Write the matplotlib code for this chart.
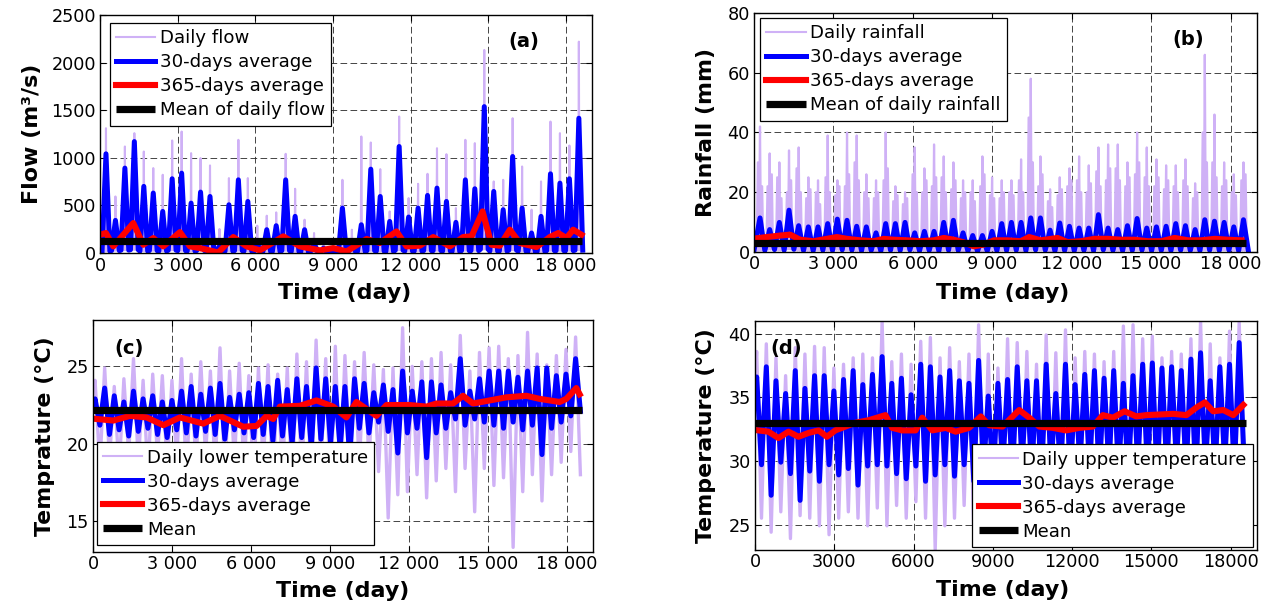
import numpy as np
import matplotlib
matplotlib.use("Agg")
import matplotlib.pyplot as plt

plt.rcParams['font.family'] = ['DejaVu Sans']

# ---------------- data ----------------
n_years = 51
year_index = np.arange(n_years)
days_per_year = 365.25
series_end_day = 18600

# (a) flow, m3/s  (one flood season per year)
flow_peak_doy = 232
flow30_peak = [1042, 343, 892, 1171, 700, 630, 437, 780, 839, 524, 640, 594, 70, 507, 769, 542, 100,
               245, 287, 769, 385, 245, 105, 52, 30, 472, 105, 297, 881, 594, 332, 1119, 378, 472,
               605, 682, 542, 322, 769, 675, 1538, 647, 455, 1014, 472, 210, 385, 832, 734, 780, 1416]
flow30_low = [20, 25, 30, 35, 20, 25, 20, 30, 25, 20, 25, 20, 10, 20, 25, 20, 10, 15, 15, 25, 15, 10,
              8, 5, 5, 15, 10, 15, 25, 20, 15, 30, 20, 20, 25, 25, 20, 15, 25, 25, 40, 20, 20, 30,
              20, 10, 15, 25, 25, 25, 30]
flow_daily_peak = [1311, 594, 1119, 1259, 1066, 892, 822, 1182, 1276, 1049, 997, 920, 252, 787, 1189,
                   787, 287, 392, 427, 1042, 675, 350, 210, 110, 60, 769, 245, 1224, 1161, 881, 437,
                   1434, 577, 727, 832, 1101, 1038, 472, 1189, 1154, 2133, 752, 769, 1416, 909, 455,
                   752, 1381, 1259, 1129, 2220]
flow365_day = [0, 232, 515, 1287, 1673, 2059, 2445, 3089, 3475, 3861, 4569, 5148, 5663, 6178, 7079,
               7722, 8494, 9009, 9524, 10296, 10811, 11454, 11840, 12355, 12870, 13514, 14028, 14350,
               14775, 15122, 15444, 15830, 16216, 16860, 17375, 17697, 18018, 18275, 18597]
flow365_val = [192, 210, 70, 315, 87, 157, 70, 220, 70, 52, 5, 168, 70, 28, 175, 70, 28, 52, 17, 147,
               105, 227, 70, 77, 168, 70, 168, 175, 437, 87, 77, 245, 105, 63, 168, 210, 157, 245, 192]
flow_mean = 124

# (b) rainfall, mm
rain_peak_doy = 227
rain30_peak = [11.4, 7.5, 9.9, 14.0, 8.8, 8.4, 8.4, 9.5, 11.0, 10.6, 8.6, 8.4, 6.4, 9.5, 9.5, 9.9, 6.4,
               6.9, 6.9, 9.9, 10.6, 6.4, 5.5, 5.5, 6.9, 9.5, 9.9, 9.9, 11.4, 11.4, 7.3, 9.7, 8.6, 8.0,
               8.0, 12.5, 8.0, 7.5, 8.8, 11.2, 8.0, 8.4, 8.6, 9.5, 8.8, 7.5, 10.8, 10.3, 9.9, 8.4, 10.8]
rain30_low = [0.5, 0.8, 0.6, 0.9, 0.5, 0.4, 0.6, 0.5, 0.7, 0.6, 0.4, 0.5, 0.3, 0.6, 0.5, 0.7, 0.4,
              0.5, 0.3, 0.6, 0.5, 0.3, 0.2, 0.3, 0.4, 0.5, 0.6, 0.4, 0.7, 0.6, 0.3, 0.5, 0.4, 0.5,
              0.4, 0.7, 0.5, 0.4, 0.5, 0.6, 0.4, 0.5, 0.4, 0.6, 0.5, 0.4, 0.6, 0.5, 0.6, 0.4, 0.5]
rain_daily_max = [42, 33, 30, 34, 35, 25, 24, 39, 24, 40, 39, 26, 24, 40, 22, 20, 35, 28, 36, 32, 30,
                  24, 24, 32, 25, 24, 24, 31, 58, 32, 21, 25, 28, 32, 29, 35, 36, 36, 30, 40, 35, 31,
                  29, 29, 31, 23, 66, 46, 30, 26, 30]
rain_daily_early = [30, 22, 25, 20, 28, 18, 20, 25, 19, 22, 30, 20, 18, 24, 17, 16, 26, 20, 22, 25,
                    21, 18, 20, 22, 19, 18, 20, 24, 45, 22, 17, 19, 22, 24, 20, 27, 24, 28, 22, 26,
                    25, 22, 21, 22, 24, 18, 40, 30, 22, 20, 24]
rain_daily_late = [22, 26, 18, 24, 20, 21, 16, 20, 22, 26, 24, 18, 20, 28, 19, 18, 20, 24, 25, 20,
                   24, 20, 17, 26, 18, 20, 19, 20, 30, 26, 15, 21, 24, 20, 23, 22, 28, 24, 25, 30,
                   22, 25, 24, 20, 22, 20, 30, 25, 24, 19, 26]
rain365_day = [38, 480, 985, 1364, 1742, 2247, 2752, 3131, 3510, 4015, 4520, 4899, 5278, 5783, 6288,
               6793, 7172, 7550, 7930, 8309, 8688, 9067, 9572, 10077, 10393, 10835, 11466, 11845,
               12351, 12856, 13361, 13866, 14371, 14877, 15382, 15887, 16392, 16897, 17403, 17908,
               18413]
rain365_val = [4.5, 5.0, 5.5, 5.8, 4.1, 3.6, 4.4, 5.0, 4.4, 3.9, 3.6, 4.4, 4.1, 3.9, 3.6, 3.9, 4.7,
               4.1, 3.2, 1.9, 2.5, 3.9, 3.9, 3.6, 5.0, 3.9, 4.7, 3.3, 3.6, 4.4, 4.4, 4.1, 4.1, 3.6,
               3.6, 4.7, 3.9, 3.9, 4.4, 4.1, 3.9]
rain_mean = 3.0

# (c) daily lower temperature, deg C
tlow_peak_doy = 78
tlow30_start = 22.4
tlow30_peak = [22.9, 23.6, 23.1, 22.7, 23.4, 22.9, 23.1, 22.7, 22.8, 23.4, 23.7, 23.2, 23.6, 23.9,
               23.0, 23.2, 23.3, 23.9, 23.7, 24.1, 23.5, 24.2, 23.7, 24.9, 24.2, 23.7, 23.7, 24.2,
               23.9, 23.3, 23.8, 23.5, 24.7, 23.4, 24.0, 24.0, 23.8, 23.3, 25.5, 23.4, 24.2, 24.7,
               24.7, 24.7, 24.3, 24.7, 24.9, 24.9, 24.4, 24.5, 25.5]
tlow30_trough = [21.2, 20.6, 20.9, 20.5, 20.8, 21.0, 20.6, 20.4, 20.9, 20.7, 20.5, 20.8, 20.6, 20.3,
                 20.9, 20.7, 20.4, 20.6, 20.2, 20.5, 20.0, 20.4, 19.8, 20.3, 20.1, 19.7, 19.1, 21.0,
                 20.7, 21.4, 20.8, 19.4, 20.7, 21.0, 19.1, 20.7, 21.0, 21.6, 21.2, 21.6, 21.4, 21.2,
                 21.0, 21.4, 20.9, 21.2, 19.3, 21.0, 21.4, 21.8, 22.1]
tlow_daily_start = 23.5
tlow_daily_max = [24.1, 24.9, 23.7, 24.2, 25.5, 24.1, 24.5, 24.4, 24.1, 25.5, 24.5, 25.3, 24.7, 26.2,
                  24.7, 25.2, 24.4, 24.9, 25.1, 24.5, 24.9, 25.8, 25.3, 26.7, 25.5, 26.3, 25.7, 25.3,
                  25.9, 25.1, 24.8, 24.9, 27.5, 25.0, 25.3, 25.5, 25.9, 25.1, 27.0, 24.7, 25.9, 26.2,
                  26.3, 25.5, 25.7, 27.2, 25.8, 25.1, 25.7, 26.1, 26.9]
tlow_daily_min = [18.5, 19.0, 18.2, 19.3, 18.7, 18.0, 19.1, 18.4, 18.9, 17.8, 18.6, 19.2, 18.3, 17.9,
                  18.8, 18.1, 17.5, 18.6, 17.2, 18.0, 16.8, 17.9, 17.0, 18.3, 16.5, 17.4, 18.8, 18.4,
                  18.8, 18.2, 15.2, 16.7, 16.9, 18.0, 16.5, 17.6, 18.4, 16.9, 18.4, 15.6, 18.4, 17.3,
                  17.8, 13.3, 16.9, 18.0, 16.3, 18.0, 18.8, 19.5, 18.0]
tlow365_day = [139, 772, 1405, 2038, 2671, 3304, 4190, 4823, 5709, 6216, 6595, 6848, 7101, 7860, 8493,
               9126, 9632, 10012, 10772, 11152, 12038, 12671, 13051, 13684, 14063, 14443, 15076,
               15709, 16469, 16975, 17735, 17988, 18368, 18494]
tlow365_val = [21.6, 21.5, 21.8, 21.7, 21.2, 21.7, 21.3, 21.8, 21.1, 21.15, 21.8, 21.6, 22.4, 22.45,
               22.8, 22.4, 21.7, 22.7, 21.8, 22.5, 22.5, 22.4, 22.6, 22.6, 23.1, 22.6, 22.8, 23.0,
               23.1, 22.9, 22.7, 22.9, 23.6, 23.2]
tlow_mean = 22.2

# (d) daily upper temperature, deg C
tup_peak_doy = 63
tup30_start = 34.8
tup30_peak = [36.6, 37.4, 36.3, 35.3, 37.1, 35.7, 36.7, 36.7, 35.5, 36.4, 37.1, 36.0, 36.8, 38.2,
              36.1, 36.5, 35.2, 37.6, 37.4, 36.6, 37.1, 36.3, 36.1, 37.9, 35.1, 36.1, 36.4, 37.4,
              36.3, 36.3, 37.6, 35.3, 37.6, 36.0, 36.8, 37.1, 36.5, 37.1, 36.1, 36.7, 37.6, 37.7,
              37.3, 37.4, 37.1, 38.0, 38.5, 36.3, 37.4, 37.6, 39.3]
tup30_trough = [29.7, 27.3, 29.9, 29.0, 26.9, 29.2, 28.4, 29.7, 28.9, 29.4, 28.1, 29.6, 29.7, 29.6,
                29.0, 28.6, 29.6, 28.4, 28.9, 29.7, 28.8, 29.7, 28.4, 29.2, 28.6, 29.5, 28.8, 29.9,
                29.1, 28.4, 29.6, 29.0, 28.7, 29.8, 29.3, 28.9, 29.5, 29.0, 28.5, 29.7, 29.2, 28.8,
                29.4, 29.9, 29.1, 28.6, 29.5, 29.3, 29.8, 29.0, 30.2]
tup_daily_start = 36.5
tup_daily_max = [38.6, 39.2, 38.1, 36.7, 38.9, 38.4, 39.0, 38.9, 37.3, 37.6, 38.1, 38.4, 38.1, 41.0,
                 37.8, 38.4, 37.6, 39.4, 39.7, 38.1, 38.9, 37.8, 38.4, 40.7, 38.4, 37.3, 39.6, 39.3,
                 38.6, 37.6, 39.9, 38.5, 40.3, 38.1, 38.6, 38.4, 37.8, 38.6, 40.6, 40.7, 39.6, 39.8,
                 38.1, 38.6, 38.4, 39.6, 41.0, 39.2, 38.1, 40.2, 41.0]
tup_daily_min = [25.5, 24.4, 26.0, 23.9, 25.7, 25.5, 24.9, 24.2, 25.5, 26.0, 25.5, 24.9, 26.3, 24.9,
                 26.5, 25.5, 26.8, 25.5, 23.0, 24.9, 25.5, 26.5, 24.4, 25.8, 24.6, 26.2, 25.1, 26.5,
                 25.4, 24.8, 26.0, 25.6, 24.9, 26.3, 25.7, 25.0, 26.4, 25.2, 24.7, 26.1, 25.5, 24.9,
                 26.2, 26.6, 25.3, 24.8, 26.0, 25.7, 26.4, 25.1, 26.8]
tup365_day = [127, 506, 886, 1266, 1646, 2026, 2405, 2722, 3038, 3418, 3798, 4304, 4937, 5191, 5570,
              6077, 6330, 6710, 7216, 7596, 8102, 8546, 8862, 9368, 10000, 10380, 10760, 11266,
              11773, 12279, 12786, 13165, 13545, 13988, 14431, 14811, 15824, 16330, 16710, 17027,
              17343, 17723, 18103, 18483]
tup365_val = [32.4, 32.3, 31.8, 32.3, 31.9, 32.2, 32.4, 31.9, 32.4, 32.7, 33.0, 33.2, 33.6, 32.6,
              32.4, 32.4, 33.4, 32.4, 32.6, 32.3, 32.6, 33.5, 32.8, 32.7, 34.0, 33.4, 32.7, 32.6,
              32.4, 32.6, 32.7, 33.6, 33.4, 33.9, 33.5, 33.6, 33.7, 33.6, 34.2, 34.6, 33.9, 34.0,
              33.6, 34.4]
tup_mean = 33.0

# ---------------- styles ----------------
PURPLE = '#cfb1f6'
BLUE = '#0000ff'
RED = '#ff0000'
LW_DAILY, LW_30, LW_365, LW_MEAN = 1.5, 3.6, 4.4, 5.2
LW_DAILY_TEMP = 2.4
TICK_FS, LABEL_FS, LEG_FS, TAG_FS = 12.7, 15.9, 13.1, 14


def spikes(peak_day, base, top, half):
    x, y = [], []
    for d, b, t in zip(peak_day, base, top):
        x += [d - half, d, d + half]
        y += [b, t, b]
    return x, y


def rain_clusters(peak_day, base, early, top, late):
    x, y = [], []
    for d, b, e, t, l in zip(peak_day, base, early, top, late):
        x += [d - 125, d - 80, d - 40, d, d + 40, d + 80, d + 125]
        y += [b, e, b, t, b, l, b]
    return x, y


def seasonal(start, peak_day, peaks, troughs):
    x, y = [0], [start]
    for d, p, t in zip(peak_day, peaks, troughs):
        x += [d, d + days_per_year / 2]
        y += [p, t]
    return x, y


def style_axes(ax, ylim, yticks, xlabels, ylabel, ylab_x, xlab_y, xlab_x):
    ax.set_xlim(0, 19000)
    ax.set_ylim(*ylim)
    ax.set_xticks(np.arange(0, 18001, 3000))
    ax.set_xticklabels(xlabels)
    ax.set_yticks(yticks)
    ax.tick_params(direction='in', top=True, right=True, length=4, width=0.8,
                   labelsize=TICK_FS)
    ax.tick_params(axis='x', pad=2.5)
    ax.tick_params(axis='y', pad=3)
    ax.grid(True, color='0.15', linestyle=(0, (8, 4)), linewidth=0.6)
    ax.set_axisbelow(True)
    for s in ax.spines.values():
        s.set_linewidth(1.0)
    ax.set_ylabel(ylabel, fontsize=LABEL_FS, fontweight='bold')
    ax.yaxis.set_label_coords(ylab_x, 0.5)
    ax.set_xlabel('Time (day)', fontsize=LABEL_FS, fontweight='bold')
    ax.xaxis.set_label_coords(xlab_x, xlab_y)


def add_legend(ax, labels, loc, anchor):
    leg = ax.legend(labels, loc=loc, bbox_to_anchor=anchor, borderaxespad=0,
                    fontsize=LEG_FS, frameon=True, fancybox=False, edgecolor='k',
                    framealpha=1, borderpad=0.35, handlelength=2.15,
                    handletextpad=0.24, labelspacing=0.33)
    leg.get_frame().set_linewidth(0.9)
    leg.get_lines()[0].set_linewidth(LW_DAILY)


fig = plt.figure(figsize=(12.67, 6.10), dpi=100)
fig.patch.set_facecolor('white')

lab_space = ['0'] + ['%d %03d' % (v // 1000, v % 1000) for v in range(3000, 18001, 3000)]
lab_plain = [str(v) for v in range(0, 18001, 3000)]

# ---- (a) ----
ax = fig.add_axes([0.0789, 0.5852, 0.3883, 0.3902])
pday = year_index * days_per_year + flow_peak_doy
x, y = spikes(pday, flow30_low, flow_daily_peak, 25)
ax.plot(x, y, color=PURPLE, lw=LW_DAILY)
x, y = spikes(pday, flow30_low, flow30_peak, 150)
ax.plot(x, y, color=BLUE, lw=LW_30)
ax.plot(flow365_day, flow365_val, color=RED, lw=LW_365)
ax.plot([0, series_end_day], [flow_mean, flow_mean], color='k', lw=LW_MEAN, solid_capstyle='butt')
style_axes(ax, (0, 2500), np.arange(0, 2501, 500), lab_space, 'Flow (m³/s)', -0.118, -0.124, 0.498)
add_legend(ax, ['Daily flow', '30-days average', '365-days average', 'Mean of daily flow'],
           'upper left', (0.020, 0.966))
ax.text(0.862, 0.887, '(a)', transform=ax.transAxes, fontsize=TAG_FS, fontweight='bold',
        ha='center', va='center')

# ---- (b) ----
ax = fig.add_axes([0.5951, 0.5869, 0.3970, 0.3918])
pday = year_index * days_per_year + rain_peak_doy
x, y = rain_clusters(pday, rain30_low, rain_daily_early, rain_daily_max, rain_daily_late)
ax.plot(x, y, color=PURPLE, lw=1.6)
x, y = seasonal(rain30_low[0], pday, rain30_peak, rain30_low)
ax.plot(x, y, color=BLUE, lw=LW_30)
ax.plot(rain365_day, rain365_val, color=RED, lw=LW_365)
ax.plot([0, series_end_day], [rain_mean, rain_mean], color='k', lw=LW_MEAN, solid_capstyle='butt')
style_axes(ax, (0, 80), np.arange(0, 81, 20), lab_space, 'Rainfall (mm)', -0.075, -0.128, 0.495)
add_legend(ax, ['Daily rainfall', '30-days average', '365-days average', 'Mean of daily rainfall'],
           'upper left', (0.012, 0.979))
ax.text(0.863, 0.887, '(b)', transform=ax.transAxes, fontsize=TAG_FS, fontweight='bold',
        ha='center', va='center')

# ---- (c) ----
ax = fig.add_axes([0.0734, 0.0951, 0.3946, 0.3803])
pday = year_index * days_per_year + tlow_peak_doy
x, y = seasonal(tlow_daily_start, pday, tlow_daily_max, tlow_daily_min)
ax.plot(x, y, color=PURPLE, lw=LW_DAILY_TEMP)
x, y = seasonal(tlow30_start, pday, tlow30_peak, tlow30_trough)
ax.plot(x, y, color=BLUE, lw=LW_30)
ax.plot(tlow365_day, tlow365_val, color=RED, lw=LW_365)
ax.plot([0, series_end_day], [tlow_mean, tlow_mean], color='k', lw=LW_MEAN, solid_capstyle='butt')
style_axes(ax, (13, 28), [15, 20, 25], lab_space, 'Temprature (°C)', -0.077, -0.123, 0.499)
add_legend(ax, ['Daily lower temperature', '30-days average', '365-days average', 'Mean'],
           'lower left', (0.008, 0.030))
ax.text(0.072, 0.879, '(c)', transform=ax.transAxes, fontsize=TAG_FS, fontweight='bold',
        ha='center', va='center')

# ---- (d) ----
ax = fig.add_axes([0.5959, 0.0984, 0.3962, 0.3754])
pday = year_index * days_per_year + tup_peak_doy
x, y = seasonal(tup_daily_start, pday, tup_daily_max, tup_daily_min)
ax.plot(x, y, color=PURPLE, lw=LW_DAILY_TEMP)
x, y = seasonal(tup30_start, pday, tup30_peak, tup30_trough)
ax.plot(x, y, color=BLUE, lw=LW_30)
ax.plot(tup365_day, tup365_val, color=RED, lw=LW_365)
ax.plot([0, series_end_day], [tup_mean, tup_mean], color='k', lw=LW_MEAN, solid_capstyle='butt')
style_axes(ax, (23, 41), [25, 30, 35, 40], lab_plain, 'Temperature (°C)', -0.077, -0.132, 0.494)
add_legend(ax, ['Daily upper temperature', '30-days average', '365-days average', 'Mean'],
           'lower right', (0.992, 0.013))
ax.text(0.062, 0.882, '(d)', transform=ax.transAxes, fontsize=TAG_FS, fontweight='bold',
        ha='center', va='center')

fig.savefig('out.png', dpi=100, facecolor='white')
